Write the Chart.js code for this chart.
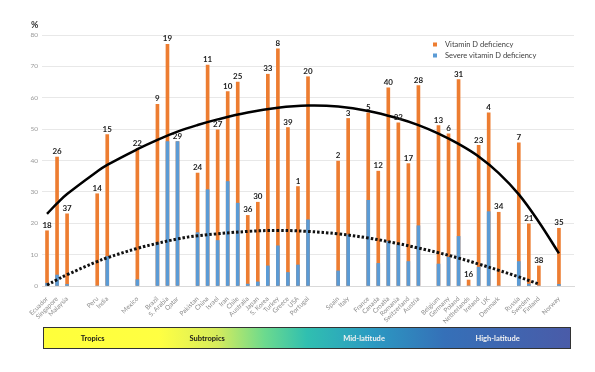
<!DOCTYPE html>
<html>
<head>
<meta charset="utf-8">
<script src="https://cdn.jsdelivr.net/npm/chart.js@4/dist/chart.umd.min.js"></script>
<style>
  html, body { margin: 0; padding: 0; background: #fff; }
</style>
</head>
<body>
<canvas id="myChart" width="595" height="372"></canvas>
<script>
// countries, with blank slots where the original leaves gaps
const countries = ['Ecuador','Singapore','Malaysia','','','Peru','India','','','Mexico','','Brazil','S. Arabia','Qatar','',
  'Pakistan','China','Israel','Iran','Chile','Australia','Japan','S. Korea','Turkey','Greece','USA','Portugal','','',
  'Spain','Italy','','France','Canada','Croatia','Romania','Switzerland','Austria','',
  'Belgium','Germany','Poland','Netherlands','Ireland','UK','Denmark','','Russia','Sweden','Finland','','Norway',''];

const deficiency = [17.6, 41.1, 23, null, null, 29.4, 48.3, null, null, 43.7, null, 57.9, 77, 46, null,
  36, 70.4, 49.8, 62, 65, 22.5, 26.7, 67.5, 75.6, 50.5, 31.7, 66.7, null, null,
  39.8, 53.4, null, 55.2, 36.6, 63.2, 52, 39, 63.9, null,
  51.1, 48.5, 65.8, 1.9, 44.8, 55.2, 23.5, null, 45.6, 19.8, 6.4, null, 18.4, null];

const severe = [0.9, 3.5, 0.5, null, null, 0, 9.4, null, null, 2, null, 13.8, 46, 46, null,
  17, 30.7, 14.5, 33.3, 26.4, 0.6, 1.3, 6.4, 12.8, 4.3, 6.7, 21.1, null, null,
  4.8, 16.3, null, 27.3, 7.2, 14.2, 13.1, 7.8, 19.2, null,
  7, 9.2, 15.8, 0, 6, 23.7, 0, null, 7.8, 0.6, 0, null, 0.5, null];

// reference numbers printed above each bar
const refNumbers = ['18','26','37','','','14','15','','','22','','9','19','29','',
  '24','11','27','10','25','36','30','33','8','39','1','20','','',
  '2','3','','5','12','40','32','17','28','',
  '13','6','31','16','23','4','34','','7','21','38','','35',''];

// curves
const trendAll = [23, 26.3, 29.3, null, null, 36.5, 38.6, null, null, 43.6, null, 46.6, null, 49.2, null,
  51.3, null, 53.1, null, null, 55.3, null, null, 56.8, null, null, 57.5, null, null,
  57.2, null, null, 55.8, null, null, 53.4, null, 51.3, null,
  48.6, null, 45.3, null, 41.3, null, 36, null, 29.2, null, 20.4, null, 10.4, null];

const trendSevere = [0.3, 2.0, 3.6, null, null, 7.8, 9.0, null, null, 12.0, null, 13.6, null, 15.0, null,
  16.0, null, null, null, null, 17.4, null, null, 17.7, null, null, 17.4, null, null,
  16.6, null, null, 15.3, null, null, 13.5, null, 12.1, null,
  10.6, null, 8.9, null, 7.0, null, 5.0, null, 2.9, null, 0.6, null, null, null];

const yTicks = [0, 10, 20, 30, 40, 50, 60, 70, 80];
const zones = ['Tropics', 'Subtropics', 'Mid-latitude', 'High-latitude'];

const orange = '#ED7D31';
const blue = '#5B9BD5';
const fontFam = 'Lato, "Open Sans", sans-serif';

// numbers above bars, legend, % label and the climate band
const extras = {
  id: 'extras',
  afterDatasetsDraw(chart) {
    const ctx = chart.ctx;
    const x = chart.scales.x, y = chart.scales.y;
    ctx.save();
    ctx.font = 'bold 8px ' + fontFam;
    ctx.fillStyle = '#222';
    ctx.textAlign = 'center';
    ctx.textBaseline = 'bottom';
    refNumbers.forEach((t, i) => {
      if (!t) return;
      const v = Math.max(deficiency[i] || 0, severe[i] || 0);
      ctx.fillText(t, x.getPixelForValue(i), y.getPixelForValue(v) - 1.5);
    });
    ctx.restore();
  },
  afterDraw(chart) {
    const ctx = chart.ctx;
    const area = chart.chartArea;
    ctx.save();

    // % label
    ctx.font = 'bold 9px ' + fontFam;
    ctx.fillStyle = '#333';
    ctx.textAlign = 'left';
    ctx.textBaseline = 'middle';
    ctx.fillText('%', 31, 25);

    // legend
    const items = [['Vitamin D deficiency', orange], ['Severe vitamin D deficiency', blue]];
    ctx.font = '7.5px ' + fontFam;
    items.forEach((it, k) => {
      const ly = 44.5 + k * 11;
      ctx.fillStyle = it[1];
      ctx.fillRect(433, ly - 2, 4, 4);
      ctx.fillStyle = '#404040';
      ctx.fillText(it[0], 445, ly);
    });

    // climate band
    const bl = area.left + 1, br = area.right - 3;
    const bt = area.bottom + 41, bh = 22;
    const g = ctx.createLinearGradient(bl, bt + bh, br, bt);
    g.addColorStop(0, '#FFFF3A');
    g.addColorStop(0.22, '#FFFF42');
    g.addColorStop(0.33, '#D6EC5C');
    g.addColorStop(0.42, '#6CDA8E');
    g.addColorStop(0.5, '#30BFB0');
    g.addColorStop(0.62, '#2B9BC2');
    g.addColorStop(0.76, '#3570B8');
    g.addColorStop(1, '#4A5BA8');
    ctx.fillStyle = g;
    ctx.fillRect(bl, bt, br - bl, bh);
    ctx.strokeStyle = '#333';
    ctx.lineWidth = 1;
    ctx.strokeRect(bl + 0.5, bt + 0.5, br - bl - 1, bh - 1);

    const pos = [0.094, 0.311, 0.608, 0.861];
    const cols = ['#1a1a1a', '#1a1a1a', '#f2f2f2', '#f2f2f2'];
    ctx.font = 'bold 7.5px ' + fontFam;
    ctx.textAlign = 'center';
    zones.forEach((z, k) => {
      ctx.fillStyle = cols[k];
      ctx.fillText(z, bl + pos[k] * (br - bl), bt + bh / 2 + 1);
    });
    ctx.restore();
  }
};

const data = {
  labels: countries,
  datasets: [
    {
      type: 'line',
      label: 'trend all',
      data: trendAll,
      borderColor: '#000',
      borderWidth: 2.5,
      tension: 0.4,
      pointRadius: 0,
      spanGaps: true,
      order: -2
    },
    {
      type: 'line',
      label: 'trend severe',
      data: trendSevere,
      borderColor: '#111',
      borderWidth: 3,
      borderDash: [2.5, 2],
      tension: 0.4,
      pointRadius: 0,
      spanGaps: true,
      order: -1
    },
    {
      label: 'Severe vitamin D deficiency',
      data: severe,
      backgroundColor: blue,
      barThickness: 3,
      grouped: false,
      order: 0
    },
    {
      label: 'Vitamin D deficiency',
      data: deficiency,
      backgroundColor: orange,
      barThickness: 3,
      grouped: false,
      order: 1
    }
  ]
};

const config = {
  type: 'bar',
  data: data,
  options: {
    responsive: false,
    animation: false,
    layout: { padding: { left: 0, right: 21, top: 35, bottom: 0 } },
    plugins: {
      legend: { display: false },
      tooltip: { enabled: false }
    },
    scales: {
      x: {
        grid: { display: false },
        border: { display: true, color: '#d9d9d9' },
        ticks: {
          autoSkip: false,
          minRotation: 45,
          maxRotation: 45,
          padding: 1,
          color: '#8c8c8c',
          font: { family: fontFam, size: 6.5 }
        },
        afterFit(scale) { scale.height = 86; }
      },
      y: {
        min: 0,
        max: 80,
        grid: { color: '#e8e8e8', drawTicks: false },
        border: { display: false },
        afterBuildTicks(scale) { scale.ticks = yTicks.map(v => ({ value: v })); },
        ticks: {
          padding: 4,
          color: '#9a9a9a',
          font: { family: fontFam, size: 6.5 }
        },
        afterFit(scale) { scale.width = 42; }
      }
    }
  },
  plugins: [extras]
};

const myChart = new Chart(document.getElementById('myChart'), config);
</script>
</body>
</html>
